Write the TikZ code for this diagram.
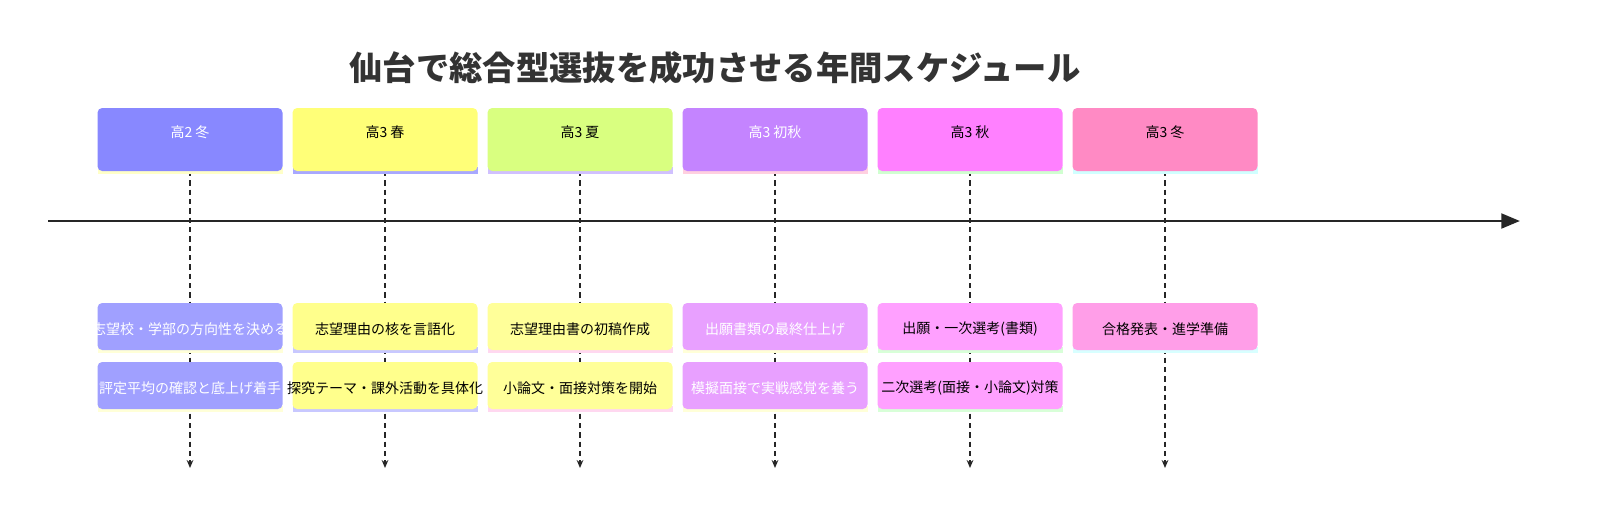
\documentclass[tikz,border=0pt]{standalone}
\usepackage{fontspec}
\setmainfont{Noto Sans CJK JP}
\usetikzlibrary{arrows.meta}
\begin{document}
\begin{tikzpicture}[x=0.75pt,y=-0.75pt,
  box/.style={rounded corners=3.5pt},
  lbl/.style={font=\fontsize{10.5}{12}\selectfont,anchor=center,inner sep=0pt},
  vline/.style={draw=black!85,line width=1.1pt,dash pattern=on 4pt off 3pt,-{Stealth[length=6pt,width=5pt]}}]
\fill[white] (0,0) rectangle (1607,529);
\node[font=\fontsize{25}{30}\bfseries\selectfont,text=black!80] (title) at (715,68) {仙台で総合型選抜を成功させる年間スケジュール};
\draw[line width=2.2pt,black!85,-{Triangle[length=14pt,width=11pt]}] (48,221) coordinate (axs) -- (1520,221) coordinate (axe);
\foreach \i/\x/\hfc/\hsc/\htc/\hlab/\efc/\esc/\etc/\ea/\eb in {
 1/190/8888FF/FFFFC8/white/高2 冬/A0A0FF/FFFFD8/white/志望校・学部の方向性を決める/評定平均の確認と底上げ着手,
 2/385/FFFF78/A8A8FF/black/高3 春/FFFF8C/C8C8FF/black/志望理由の核を言語化/探究テーマ・課外活動を具体化,
 3/580/D9FF80/D0C0FF/black/高3 夏/FFFF99/FFD8F0/black/志望理由書の初稿作成/小論文・面接対策を開始,
 4/775/C484FF/FFD0E0/white/高3 初秋/E8A0FF/FFFFD8/white/出願書類の最終仕上げ/模擬面接で実戦感覚を養う,
 5/970/FF80FF/D0FFD0/black/高3 秋/FFA0FF/D8FFD8/black/出願・一次選考(書類)/二次選考(面接・小論文)対策,
 6/1165/FF8AC4/D0FFFF/black/高3 冬/FF9EE8/D8FFFF/black/合格発表・進学準備/}{
  \definecolor{hf\i}{HTML}{\hfc}\definecolor{hs\i}{HTML}{\hsc}
  \definecolor{ef\i}{HTML}{\efc}\definecolor{es\i}{HTML}{\esc}
  \coordinate (top\i) at (\x,171);
  \coordinate (bot\i) at (\x,468);
  \draw[vline] (top\i) -- (bot\i);
  \fill[hs\i] (\x-92.5,167) rectangle (\x+92.5,174);
  \fill[box,hf\i] (\x-92.5,108) rectangle (\x+92.5,171);
  \node[lbl,text=\htc] (h\i) at (\x,132) {\hlab};
  \fill[es\i] (\x-92.5,347) rectangle (\x+92.5,353);
  \fill[box,ef\i] (\x-92.5,303) rectangle (\x+92.5,350);
  \node[lbl,text=\etc] (ea\i) at (\x,329) {\ea};
  \ifnum\i<6
  \fill[es\i] (\x-92.5,406) rectangle (\x+92.5,412);
  \fill[box,ef\i] (\x-92.5,362) rectangle (\x+92.5,409);
  \node[lbl,text=\etc] (eb\i) at (\x,388) {\eb};
  \fi
}
\pgfresetboundingbox
\path[use as bounding box] (0,0) rectangle (1607,529);
\end{tikzpicture}
\end{document}
